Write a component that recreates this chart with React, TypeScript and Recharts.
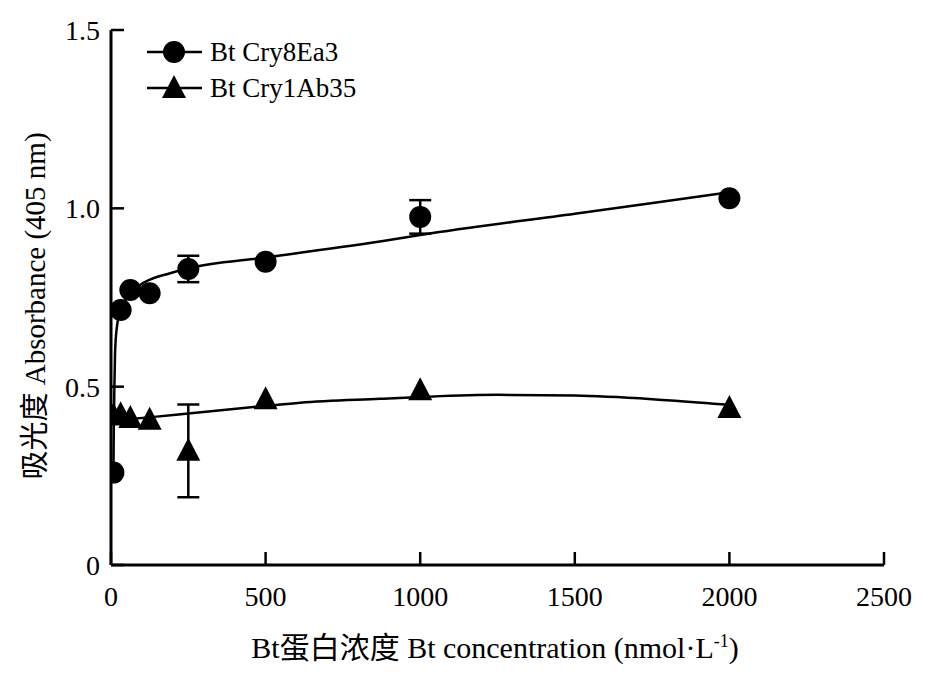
import React from 'react'
import {
  ComposedChart,
  Scatter,
  Line,
  XAxis,
  YAxis,
  ErrorBar,
} from 'recharts'

const conc = [7.8, 31.25, 62.5, 125, 250, 500, 1000, 2000]
const cry8Ea3 = [0.259, 0.715, 0.771, 0.762, 0.83, 0.85, 0.976, 1.028]
const cry8Ea3Err = [0, 0, 0, 0, 0.037, 0, 0.047, 0]
const cry1Ab35 = [0.419, 0.423, 0.412, 0.407, 0.32, 0.465, 0.49, 0.44]
const cry1Ab35Err = [0, 0, 0, 0, 0.13, 0, 0, 0]

// fitted curves
const fit8X = [7.8, 9, 11, 13, 18, 31.25, 62.5, 94, 126, 191, 250, 500, 900, 1000, 1500, 2000]
const fit8Y = [0.26, 0.38, 0.5, 0.59, 0.66, 0.715, 0.76, 0.785, 0.8, 0.818, 0.832, 0.862, 0.911, 0.925, 0.985, 1.045]
const fit1X = [7.8, 148, 250, 500, 612, 870, 1000, 1250, 1500, 1750, 2000]
const fit1Y = [0.405, 0.416, 0.425, 0.446, 0.455, 0.466, 0.471, 0.477, 0.475, 0.465, 0.449]

const xTicks = [0, 500, 1000, 1500, 2000, 2500]
const yTicks = [0, 0.5, 1.0, 1.5]

const FONT = '"Liberation Serif", "Noto Sans CJK SC", serif'

const pts = (xs: number[], ys: number[], es?: number[]) =>
  xs.map((x, i) => ({ x, y: ys[i], err: es ? es[i] : 0 }))

const cry8Data = pts(conc, cry8Ea3, cry8Ea3Err)
const cry1Data = pts(conc, cry1Ab35, cry1Ab35Err)
const errData = [...cry8Data, ...cry1Data].filter((d) => d.err > 0)
const fit8 = pts(fit8X, fit8Y)
const fit1 = pts(fit1X, fit1Y)

const Dot = (p: any) => <circle cx={p.cx} cy={p.cy} r={11} fill="#000" />
const Tri = (p: any) => (
  <polygon
    points={`${p.cx},${p.cy - 13} ${p.cx - 12},${p.cy + 10} ${p.cx + 12},${p.cy + 10}`}
    fill="#000"
  />
)
const Nothing = () => <g />

const legendRows = [
  { name: 'Bt Cry8Ea3', shape: Dot },
  { name: 'Bt Cry1Ab35', shape: Tri },
]

export default function App() {
  return (
    <div style={{ position: 'absolute', left: 0, top: 0, width: 939, height: 681, background: '#fff' }}>
      <ComposedChart width={939} height={681} margin={{ top: 30, right: 55, bottom: 0, left: 0 }}>
        <XAxis
          type="number"
          dataKey="x"
          domain={[0, 2500]}
          ticks={xTicks}
          interval={0}
          height={116}
          axisLine={{ stroke: '#000', strokeWidth: 3 }}
          tickLine={{ stroke: '#000', strokeWidth: 2.5 }}
          tickSize={-13}
          tickMargin={34}
          tick={{ fill: '#000', fontSize: 28, fontFamily: FONT }}
          allowDataOverflow
        />
        <YAxis
          type="number"
          dataKey="y"
          domain={[0, 1.5]}
          ticks={yTicks}
          interval={0}
          width={111}
          axisLine={{ stroke: '#000', strokeWidth: 3 }}
          tickLine={{ stroke: '#000', strokeWidth: 2.5 }}
          tickSize={-13}
          tickMargin={24}
          tickFormatter={(v: number) => (v === 0 ? '0' : v.toFixed(1))}
          tick={{ fill: '#000', fontSize: 28, fontFamily: FONT }}
          allowDataOverflow
        />
        <Line data={fit8} dataKey="y" type="monotone" stroke="#000" strokeWidth={2.5} dot={false} isAnimationActive={false} />
        <Line data={fit1} dataKey="y" type="monotone" stroke="#000" strokeWidth={2.5} dot={false} isAnimationActive={false} />
        <Scatter data={errData} dataKey="y" shape={Nothing} isAnimationActive={false}>
          <ErrorBar dataKey="err" direction="y" width={11} stroke="#000" strokeWidth={2.5} />
        </Scatter>
        <Scatter name="Bt Cry8Ea3" data={cry8Data} dataKey="y" shape={Dot} isAnimationActive={false} />
        <Scatter name="Bt Cry1Ab35" data={cry1Data} dataKey="y" shape={Tri} isAnimationActive={false} />
      </ComposedChart>
      <svg width={939} height={681} style={{ position: 'absolute', left: 0, top: 0, pointerEvents: 'none' }}>
        {legendRows.map((r, i) => {
          const cy = 52 + i * 36
          const S = r.shape
          return (
            <g key={r.name}>
              <line x1={147} x2={202} y1={cy} y2={cy} stroke="#000" strokeWidth={2.5} />
              <S cx={174} cy={cy} />
              <text x={210} y={cy + 9} fontSize={27} fontFamily={FONT} fill="#000">
                {r.name}
              </text>
            </g>
          )
        })}
        <text x={495} y={658} textAnchor="middle" fontSize={30} fontFamily={FONT} fill="#000">
          Bt蛋白浓度 Bt concentration (nmol·L
          <tspan dy={-11} fontSize={18}>-1</tspan>
          <tspan dy={11}>)</tspan>
        </text>
        <text
          transform="translate(45,306) rotate(-90)"
          textAnchor="middle"
          fontSize={29}
          fontFamily={FONT}
          fill="#000"
        >
          吸光度 Absorbance (405 nm)
        </text>
      </svg>
    </div>
  )
}
